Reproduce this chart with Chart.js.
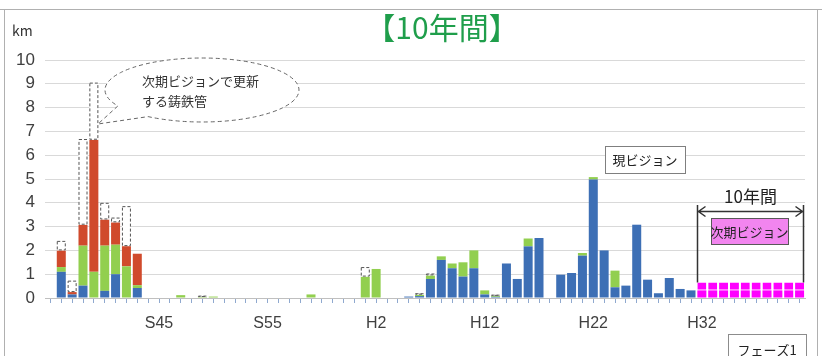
<!DOCTYPE html>
<html>
<head>
<meta charset="utf-8">
<script src="https://cdn.jsdelivr.net/npm/chart.js@4/dist/chart.umd.min.js"></script>
<style>
  html, body { margin: 0; padding: 0; background: #fff; }
</style>
</head>
<body>
<canvas id="pipeChart" width="822" height="356"></canvas>
<script>
// 布設年度（S35〜H41）
const years = [
  'S35','S36','S37','S38','S39','S40','S41','S42','S43','S44',
  'S45','S46','S47','S48','S49','S50','S51','S52','S53','S54',
  'S55','S56','S57','S58','S59','S60','S61','S62','S63','H1',
  'H2','H3','H4','H5','H6','H7','H8','H9','H10','H11',
  'H12','H13','H14','H15','H16','H17','H18','H19','H20','H21',
  'H22','H23','H24','H25','H26','H27','H28','H29','H30','H31',
  'H32','H33','H34','H35','H36','H37','H38','H39','H40','H41'
];
const tickLabels = ['S45', 'S55', 'H2', 'H12', 'H22', 'H32'];

// 延長 (km)
const blueKm = [
  0, 1.1, 0.15, 0.52, 0, 0.3, 1.0, 0, 0.42, 0,
  0, 0, 0, 0, 0, 0, 0, 0, 0, 0,
  0, 0, 0, 0, 0, 0, 0, 0, 0, 0,
  0, 0, 0, 0.06, 0.08, 0.8, 1.6, 1.25, 0.9, 1.25,
  0.15, 0.05, 1.45, 0.8, 2.17, 2.52, 0, 0.98, 1.05, 1.78,
  4.98, 2.0, 0.45, 0.52, 3.08, 0.77, 0.2, 0.84, 0.38, 0.32,
  0, 0, 0, 0, 0, 0, 0, 0, 0, 0
];
const greenKm = [
  0, 0.2, 0, 1.68, 1.1, 1.9, 1.24, 1.33, 0.12, 0,
  0, 0, 0.12, 0, 0.04, 0.06, 0, 0, 0, 0,
  0, 0, 0, 0, 0.15, 0, 0, 0, 0, 0.9,
  1.22, 0, 0, 0, 0.06, 0.15, 0.15, 0.2, 0.6, 0.75,
  0.17, 0.04, 0, 0, 0.33, 0, 0, 0, 0, 0.11,
  0.1, 0, 0.7, 0, 0, 0, 0, 0, 0, 0,
  0, 0, 0, 0, 0, 0, 0, 0, 0, 0
];
const redKm = [
  0, 0.7, 0.1, 0.88, 5.55, 1.1, 0.94, 0.85, 1.32, 0,
  0, 0, 0, 0, 0, 0, 0, 0, 0, 0,
  0, 0, 0, 0, 0, 0, 0, 0, 0, 0,
  0, 0, 0, 0, 0, 0, 0, 0, 0, 0,
  0, 0, 0, 0, 0, 0, 0, 0, 0, 0,
  0, 0, 0, 0, 0, 0, 0, 0, 0, 0,
  0, 0, 0, 0, 0, 0, 0, 0, 0, 0
];
// 次期ビジョンで更新する鋳鉄管（点線枠）
const renewKm = [
  0, 0.4, 0.48, 3.6, 2.4, 0.7, 0.2, 1.68, 0, 0,
  0, 0, 0, 0, 0.06, 0, 0, 0, 0, 0,
  0, 0, 0, 0, 0, 0, 0, 0, 0, 0.4,
  0, 0, 0, 0, 0.06, 0.08, 0, 0, 0, 0,
  0, 0.05, 0, 0, 0, 0, 0, 0, 0, 0,
  0, 0, 0, 0, 0, 0, 0, 0, 0, 0,
  0, 0, 0, 0, 0, 0, 0, 0, 0, 0
];
// 次期ビジョン（上下2段）
const nextLowKm = [
  0, 0, 0, 0, 0, 0, 0, 0, 0, 0,
  0, 0, 0, 0, 0, 0, 0, 0, 0, 0,
  0, 0, 0, 0, 0, 0, 0, 0, 0, 0,
  0, 0, 0, 0, 0, 0, 0, 0, 0, 0,
  0, 0, 0, 0, 0, 0, 0, 0, 0, 0,
  0, 0, 0, 0, 0, 0, 0, 0, 0, 0,
  0.32, 0.32, 0.32, 0.32, 0.32, 0.32, 0.32, 0.32, 0.32, 0.32
];
const nextHighKm = [
  0, 0, 0, 0, 0, 0, 0, 0, 0, 0,
  0, 0, 0, 0, 0, 0, 0, 0, 0, 0,
  0, 0, 0, 0, 0, 0, 0, 0, 0, 0,
  0, 0, 0, 0, 0, 0, 0, 0, 0, 0,
  0, 0, 0, 0, 0, 0, 0, 0, 0, 0,
  0, 0, 0, 0, 0, 0, 0, 0, 0, 0,
  0.33, 0.33, 0.33, 0.33, 0.33, 0.33, 0.33, 0.33, 0.33, 0.33
];

const JP = '"Noto Sans CJK JP", sans-serif';

function box(ctx, x, y, w, h, fill, stroke, text, font) {
  ctx.fillStyle = fill;
  ctx.fillRect(x, y, w, h);
  ctx.strokeStyle = stroke;
  ctx.lineWidth = 1;
  ctx.setLineDash([]);
  ctx.strokeRect(x + 0.5, y + 0.5, w, h);
  ctx.fillStyle = '#222';
  ctx.font = font;
  ctx.textAlign = 'center';
  ctx.textBaseline = 'middle';
  ctx.fillText(text, x + w / 2, y + h / 2 + 1);
}

const extras = {
  id: 'extras',
  beforeDraw(chart) {
    const ctx = chart.ctx;
    ctx.save();
    ctx.strokeStyle = '#b0b0b0';
    ctx.lineWidth = 1;
    ctx.beginPath();
    ctx.moveTo(0, 9.5); ctx.lineTo(822, 9.5);
    ctx.moveTo(4.5, 9.5); ctx.lineTo(4.5, 356);
    ctx.moveTo(817.5, 9.5); ctx.lineTo(817.5, 356);
    ctx.stroke();
    ctx.restore();
  },
  afterDatasetsDraw(chart) {
    const ctx = chart.ctx;
    const meta = chart.getDatasetMeta(3);
    ctx.save();
    ctx.setLineDash([3, 2]);
    ctx.strokeStyle = '#555';
    ctx.lineWidth = 1;
    meta.data.forEach((bar, i) => {
      if (!renewKm[i]) return;
      const p = bar.getProps(['x', 'y', 'base', 'width'], true);
      const l = p.x - p.width / 2;
      ctx.fillStyle = '#fff';
      ctx.fillRect(l, p.y, p.width, p.base - p.y);
      ctx.strokeRect(l + 0.5, p.y + 0.5, p.width - 1, p.base - p.y - 1);
    });
    ctx.restore();
  },
  afterDraw(chart) {
    const ctx = chart.ctx;
    ctx.save();

    // タイトル
    ctx.fillStyle = '#1f9e4b';
    ctx.font = '30px ' + JP;
    ctx.textAlign = 'center';
    ctx.textBaseline = 'middle';
    ctx.fillText('【10年間】', 442, 28);

    // 単位
    ctx.fillStyle = '#333';
    ctx.font = '14px ' + JP;
    ctx.textAlign = 'left';
    ctx.fillText('km', 12, 31);

    // 吹き出し
    const cx = 202, cy = 90, rx = 97, ry = 32;
    ctx.beginPath();
    ctx.ellipse(cx, cy, rx, ry, 0, 2.16, 2.62, true);
    ctx.lineTo(98, 124);
    ctx.closePath();
    ctx.fillStyle = '#fff';
    ctx.fill();
    ctx.setLineDash([4, 3]);
    ctx.strokeStyle = '#666';
    ctx.lineWidth = 1;
    ctx.stroke();
    ctx.setLineDash([]);
    ctx.fillStyle = '#333';
    ctx.font = '13px ' + JP;
    ctx.textAlign = 'left';
    ctx.textBaseline = 'middle';
    ctx.fillText('次期ビジョンで更新', 142, 81);
    ctx.fillText('する鋳鉄管', 142, 101);

    box(ctx, 605, 146, 80, 27, '#fff', '#7f7f7f', '現ビジョン', '13px ' + JP);

    // 次期ビジョン 10年間の範囲
    const magenta = chart.getDatasetMeta(5).data;
    const first = magenta[60].getProps(['x', 'y', 'width'], true);
    const last = magenta[69].getProps(['x', 'y', 'width'], true);
    const x1 = Math.round(first.x - first.width / 2) + 0.5;
    const x2 = Math.round(last.x + last.width / 2) - 0.5;
    const ay = 211.5;
    ctx.strokeStyle = '#333';
    ctx.lineWidth = 1.5;
    ctx.beginPath();
    ctx.moveTo(x1, 205); ctx.lineTo(x1, first.y);
    ctx.moveTo(x2, 205); ctx.lineTo(x2, last.y);
    ctx.moveTo(x1, ay); ctx.lineTo(x2, ay);
    ctx.moveTo(x1 + 8, ay - 5); ctx.lineTo(x1 + 1, ay); ctx.lineTo(x1 + 8, ay + 5);
    ctx.moveTo(x2 - 8, ay - 5); ctx.lineTo(x2 - 1, ay); ctx.lineTo(x2 - 8, ay + 5);
    ctx.stroke();

    ctx.fillStyle = '#222';
    ctx.font = '17px ' + JP;
    ctx.textAlign = 'center';
    ctx.fillText('10年間', (x1 + x2) / 2, 197);

    box(ctx, 711, 218, 77, 26, '#f285ef', '#595959', '次期ビジョン', '13px ' + JP);
    box(ctx, 728, 334, 78, 30, '#fff', '#8c8c8c', 'フェーズ1', '13px ' + JP);

    ctx.restore();
  }
};

const ctx = document.getElementById('pipeChart').getContext('2d');
const chart = new Chart(ctx, {
  type: 'bar',
  data: {
    labels: years,
    datasets: [
      { label: 'blue', data: blueKm, backgroundColor: '#3d6fb5' },
      { label: 'green', data: greenKm, backgroundColor: '#92cf4f' },
      { label: 'red', data: redKm, backgroundColor: '#d04a2c' },
      { label: 'renew', data: renewKm, backgroundColor: 'rgba(0,0,0,0)' },
      { label: 'next-low', data: nextLowKm, backgroundColor: '#ff00ff' },
      {
        label: 'next-high', data: nextHighKm, backgroundColor: '#ff00ff',
        borderColor: '#ffffff', borderWidth: { top: 0, left: 0, right: 0, bottom: 1 },
        borderSkipped: false
      }
    ]
  },
  options: {
    responsive: false,
    animation: false,
    layout: { padding: { top: 60, right: 17, left: 0, bottom: 0 } },
    datasets: { bar: { categoryPercentage: 1, barPercentage: 0.83 } },
    plugins: {
      legend: { display: false },
      tooltip: { enabled: false }
    },
    scales: {
      x: {
        stacked: true,
        grid: { offset: false, drawOnChartArea: false, tickLength: 5, color: '#8fa9cf' },
        border: { display: true, color: '#bfbfbf' },
        ticks: {
          autoSkip: false,
          maxRotation: 0,
          padding: 11,
          color: '#404040',
          font: { family: '"Liberation Sans Narrow", "Liberation Sans", sans-serif', size: 16 },
          callback: (v, i) => tickLabels.includes(years[i]) ? years[i] : ''
        },
        afterFit: (scale) => { scale.height = 58; }
      },
      y: {
        stacked: true,
        min: 0,
        max: 10,
        grid: { color: '#d9d9d9', drawTicks: false },
        border: { display: false },
        ticks: {
          stepSize: 1,
          padding: 10,
          color: '#404040',
          font: { family: '"Liberation Sans", sans-serif', size: 17 }
        },
        afterFit: (scale) => { scale.width = 45; }
      }
    }
  },
  plugins: [extras]
});
</script>
</body>
</html>
